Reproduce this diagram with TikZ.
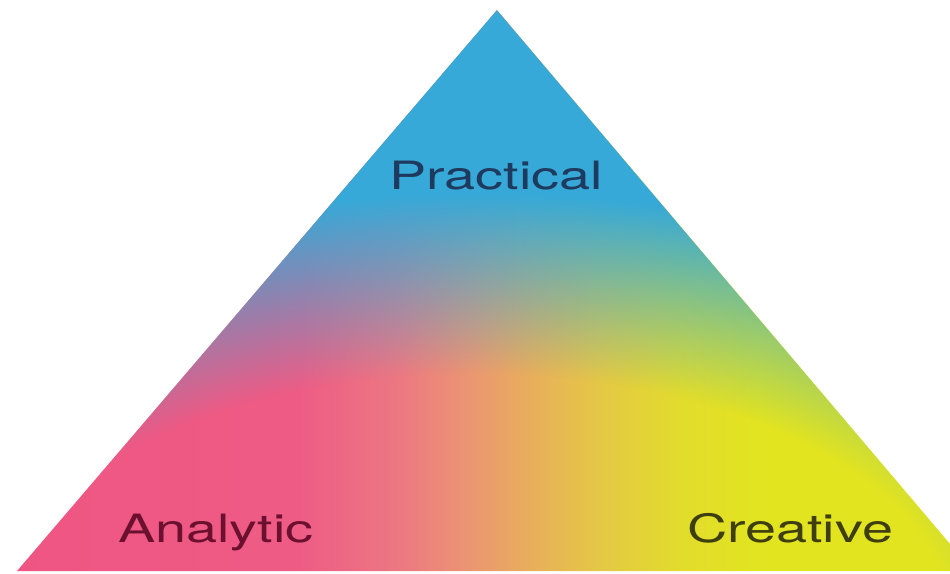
\documentclass[tikz,border=0pt]{standalone}
\usepackage{fontspec}
\usetikzlibrary{fadings}
\newfontfamily\labelfont[FakeStretch=1.43]{TeX Gyre Heros}

% palette
\definecolor{topblue}{HTML}{36A9D8}
\definecolor{pinkA}{HTML}{EF5583}
\definecolor{pinkB}{HTML}{EE5C85}
\definecolor{salmon}{HTML}{EC7882}
\definecolor{peach}{HTML}{EB9672}
\definecolor{amber}{HTML}{E8AE5C}
\definecolor{mustard}{HTML}{E4C845}
\definecolor{lemon}{HTML}{E2DC2C}
\definecolor{yellowA}{HTML}{E2E420}
\definecolor{practicaltext}{HTML}{1E3A5E}
\definecolor{analytictext}{HTML}{6C1030}
\definecolor{creativetext}{HTML}{3E3E0E}

% pink on the left running into yellow on the right (path width maps to 25bp..75bp)
\pgfdeclarehorizontalshading{baseblend}{100bp}{%
  color(0bp)=(pinkA); color(25bp)=(pinkA); color(39.8bp)=(pinkB);
  color(45bp)=(salmon); color(48.7bp)=(peach); color(51.8bp)=(amber);
  color(55.5bp)=(mustard); color(59.7bp)=(lemon); color(63.9bp)=(yellowA);
  color(100bp)=(yellowA)}

% blue veil: clear near the base centre, opaque towards the apex
\pgfdeclareradialshading{veilshade}{\pgfpointorigin}{%
  color(0bp)=(transparent!100); color(25bp)=(transparent!100);
  color(43bp)=(transparent!0); color(100bp)=(transparent!0)}
\pgfdeclarefading{blueveil}{\pgfuseshading{veilshade}}

\tikzset{
  corner label/.style={font=\labelfont\fontsize{39}{39}\selectfont, inner sep=0pt, anchor=base}
}

\begin{document}
\begin{tikzpicture}[x=1pt,y=-1pt]
  \useasboundingbox (0,0) rectangle (950,573);
  \clip (0,0) rectangle (950,573);

  \coordinate (apex) at (497,10);
  \coordinate (bl) at (17,571);
  \coordinate (br) at (973,571);

  \shade[shading=baseblend] (apex) -- (bl) -- (br) -- cycle;
  \fill[topblue, path fading=blueveil, fit fading=false,
        fading transform={shift={(475,625)}, xscale=19, yscale=10}]
    (apex) -- (bl) -- (br) -- cycle;

  \node[corner label, text=practicaltext] (practical) at (496,189) {Practical};
  \node[corner label, text=analytictext] (analytic) at (216,542) {Analytic};
  \node[corner label, text=creativetext] (creative) at (790,542) {Creative};
\end{tikzpicture}
\end{document}
